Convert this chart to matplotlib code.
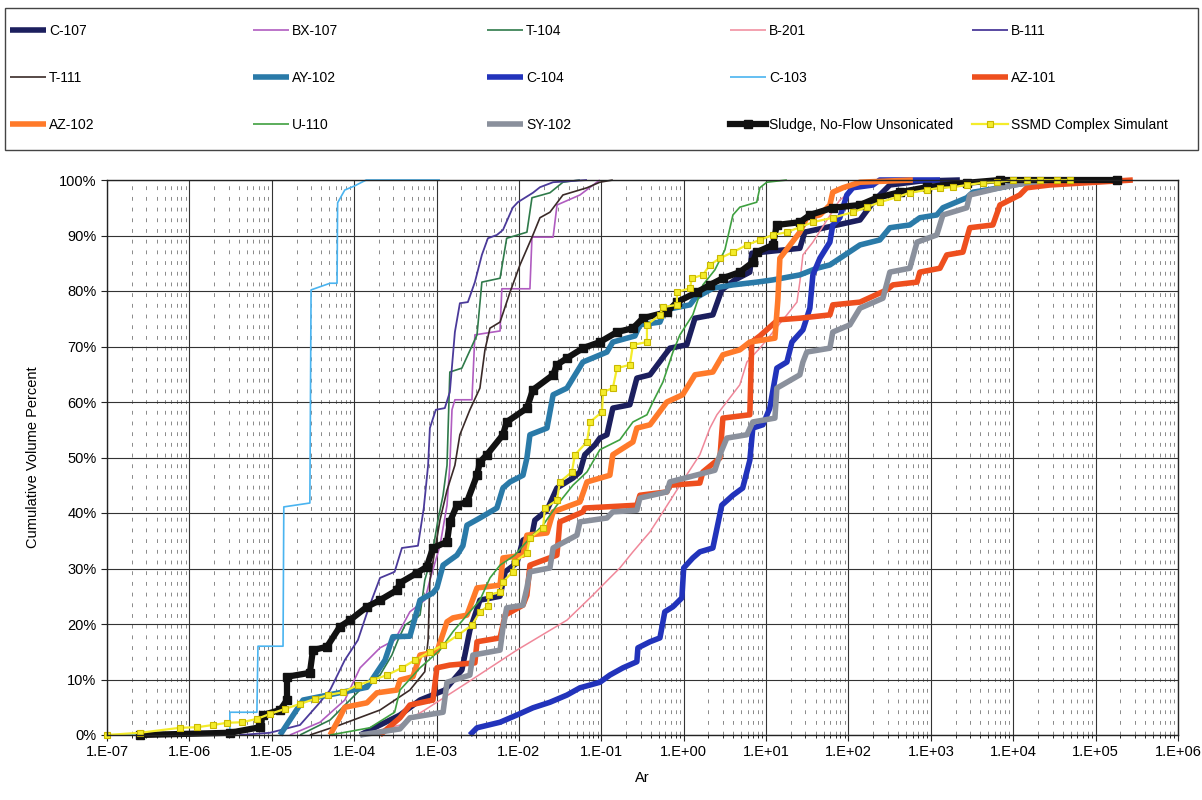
import matplotlib
matplotlib.use("Agg")
import matplotlib.pyplot as plt
import numpy as np
from matplotlib.patches import Rectangle
from matplotlib.ticker import FixedLocator, FuncFormatter, NullFormatter

plt.rcParams['font.family'] = ['Liberation Sans', 'DejaVu Sans']

# Series data (x = Ar, y = cumulative volume %)
c107_x = [1.18e-4, 3.6e-4, 6.3e-4, 1.26e-3, 2.03e-3, 2.54e-3, 3.36e-3, 5.9e-3, 6.8e-3, 9.45e-3,
          1.12e-2, 1.44e-2, 1.56e-2, 2.19e-2, 2.89e-2, 4.52e-2, 5.5e-2, 6.3e-2, 8.4e-2, 9.6e-2,
          0.117, 0.138, 0.222, 0.27, 0.39, 0.68, 1.09, 1.37, 2.26, 2.9, 4.18, 6.35, 6.7,
          25.7, 29.5, 138, 209, 318, 735, 2250]
c107_y = [0, 3.6, 6.3, 8.1, 11.7, 18.9, 24.3, 25.0, 29.4, 31.0,
          35.1, 36.0, 38.7, 40.5, 44.5, 46.3, 47.4, 50.5, 52.3, 53.5,
          54.1, 58.9, 59.5, 64.3, 64.9, 69.7, 70.3, 75.1, 75.7, 80.2, 82.0, 83.4, 86.8,
          87.7, 90.6, 92.8, 96.4, 99.1, 99.8, 100]

bx107_x = [1.66e-5, 3.85e-5, 7.7e-5, 1.18e-4, 2.06e-4, 3.1e-4, 4.75e-4, 7.2e-4, 8.3e-4, 1.1e-3,
           1.34e-3, 1.45e-3, 1.54e-3, 1.67e-3, 2.69e-3, 2.92e-3, 5.9e-3, 6.2e-3, 1.36e-2, 1.44e-2,
           2.6e-2, 2.9e-2, 5.5e-2, 9.6e-2]
bx107_y = [0, 2.3, 6.3, 12.1, 15.7, 17.1, 22.2, 24.3, 27.9, 34.1,
           41.4, 48.6, 58.6, 60.4, 60.4, 72.1, 72.8, 80.4, 80.4, 89.7,
           89.7, 95.5, 97.3, 100]

t104_x = [2.2e-5, 5.1e-5, 8.9e-5, 1.35e-4, 2.06e-4, 2.87e-4, 3.4e-4, 4.15e-4, 6.3e-4, 7.2e-4,
          8.8e-4, 1.04e-3, 1.2e-3, 1.34e-3, 1.45e-3, 2.03e-3, 3.1e-3, 3.55e-3, 5.9e-3, 7.1e-3,
          1.25e-2, 1.44e-2, 2.38e-2, 3.42e-2, 5.5e-2]
t104_y = [0, 2.7, 6.3, 9.0, 10.8, 14.4, 17.1, 19.8, 21.6, 27.9,
          32.4, 38.7, 43.2, 48.6, 65.4, 66.1, 72.1, 81.6, 82.3, 89.5,
          90.6, 96.8, 97.7, 99.6, 100]

b201_x = [1.18e-4, 3.6e-4, 7.2e-4, 2.34e-3, 9.45e-3, 3.83e-2, 7.9e-2, 0.127, 0.168, 0.242,
          0.39, 0.56, 0.90, 1.57, 2.08, 2.53, 4.8, 5.85, 8.4, 17.9, 23.7, 25.7, 28.0, 37.0,
          78.5, 138, 420]
b201_y = [0, 1.8, 4.5, 9.4, 15.3, 20.7, 25.2, 28.3, 30.1, 33.0,
          36.6, 40.2, 45.0, 50.5, 55.3, 57.7, 63.1, 67.2, 69.7, 75.7, 78.0, 81.6, 86.5, 88.8,
          96.4, 99.1, 100]

b111_x = [4.1e-6, 9.5e-6, 2.2e-5, 3.6e-5, 5.1e-5, 7.7e-5, 1.11e-4, 1.47e-4, 2.06e-4, 3.1e-4,
          3.8e-4, 5.95e-4, 7.0e-4, 7.9e-4, 8.3e-4, 9.8e-4, 1.26e-3, 1.45e-3, 1.67e-3, 1.92e-3,
          2.4e-3, 2.92e-3, 3.55e-3, 4.2e-3, 5.4e-3, 6.4e-3, 8.4e-3, 9.7e-3, 1.48e-2, 1.8e-2,
          2.6e-2, 6.7e-2]
b111_y = [0, 0.4, 1.8, 5.4, 8.1, 13.5, 17.1, 22.5, 28.3, 29.4,
          33.7, 34.1, 40.9, 48.6, 55.3, 58.6, 58.9, 61.8, 72.6, 77.8,
          78.0, 81.6, 86.5, 89.5, 90.1, 91.0, 95.0, 96.0, 97.7, 98.7,
          99.6, 100]

t111_x = [2.9e-5, 6.7e-5, 2.06e-4, 4.75e-4, 7.2e-4, 7.9e-4, 8.3e-4, 1.1e-3, 1.34e-3, 1.67e-3,
          1.92e-3, 2.54e-3, 3.36e-3, 3.87e-3, 4.45e-3, 5.9e-3, 7.8e-3, 1.03e-2, 1.48e-2, 1.8e-2,
          2.38e-2, 3.42e-2, 6.7e-2, 9.6e-2, 0.138]
t111_y = [0, 1.8, 4.5, 8.1, 11.4, 17.1, 27.9, 38.7, 44.1, 48.6,
          54.1, 58.6, 62.5, 69.4, 73.3, 74.4, 79.8, 84.7, 90.1, 93.2,
          94.2, 97.3, 98.6, 99.6, 100]

ay102_x = [1.26e-5, 2.4e-5, 1.43e-4, 2.37e-4, 2.95e-4, 4.75e-4, 6.3e-4, 9.05e-4, 1.01e-3, 1.2e-3,
           1.77e-3, 2.09e-3, 2.34e-3, 3.36e-3, 5.4e-3, 6.4e-3, 7.8e-3, 1.12e-2, 1.25e-2, 1.36e-2,
           2.19e-2, 2.6e-2, 3.83e-2, 5.98e-2, 0.117, 0.138, 0.256, 0.294, 0.515, 0.59,
           1.19, 1.37, 2.26, 3.96, 7.7, 12.1, 25.7, 41.4, 59.5, 138, 240, 318, 555, 735,
           1180, 1400, 2730, 3230, 6900, 1.0e4, 1.73e4, 3.02e4]
ay102_y = [0, 6.3, 8.6, 13.5, 17.7, 17.8, 24.3, 25.6, 26.5, 30.6,
           32.4, 34.1, 37.8, 39.1, 40.9, 44.5, 45.6, 46.8, 49.9, 54.1,
           55.3, 61.3, 62.5, 67.2, 69.0, 70.8, 71.9, 73.9, 74.4, 76.6,
           77.5, 78.7, 80.5, 81.1, 81.6, 82.0, 82.9, 84.1, 84.7, 88.3, 89.2, 91.4, 91.9, 93.2,
           93.7, 95.0, 96.8, 97.8, 98.6, 99.1, 99.6, 100]

c104_x = [2.54e-3, 3.1e-3, 5.9e-3, 9.45e-3, 1.48e-2, 2.38e-2, 3.83e-2, 5.5e-2, 9.6e-2, 0.127,
          0.183, 0.27, 0.278, 0.39, 0.515, 0.59, 0.74, 0.95, 1.0, 1.29,
          1.57, 2.26, 2.9, 3.96, 5.2, 6.35, 6.9, 9.15, 11.1, 13.5,
          17.9, 20.6, 28.0, 34.0, 37.0, 45.0, 59.5, 64.5, 78.5, 95.5,
          113, 198, 240, 1290]
c104_y = [0, 1.3, 2.3, 3.6, 4.9, 5.9, 7.2, 8.5, 9.5, 10.8,
          12.1, 13.2, 15.7, 16.8, 17.5, 22.2, 23.1, 24.7, 30.1, 31.9,
          33.0, 33.7, 41.4, 43.2, 44.5, 49.5, 55.3, 55.9, 58.9, 66.1,
          67.2, 70.8, 73.0, 76.9, 82.9, 85.9, 88.8, 91.9, 93.2, 97.3,
          98.6, 99.1, 100, 100]

c103_x = [1.0e-7, 3.1e-6, 3.1e-6, 6.6e-6, 6.8e-6, 1.37e-5, 1.4e-5, 2.9e-5, 3.0e-5, 5.1e-5,
          6.2e-5, 6.3e-5, 7.7e-5, 1.0e-4, 1.4e-4, 1.1e-3]
c103_y = [0, 0, 4.1, 4.1, 16.0, 16.0, 41.1, 41.8, 80.2, 81.4,
          81.4, 95.9, 98.2, 98.9, 100, 100]

az101_x = [2.06e-4, 3.6e-4, 4.75e-4, 9.05e-4, 1.01e-3, 1.45e-3, 2.92e-3, 3.1e-3, 5.9e-3, 6.8e-3,
           1.12e-2, 1.25e-2, 1.36e-2, 2.89e-2, 3.14e-2, 5.98e-2, 6.3e-2, 0.27, 0.294, 0.625,
           0.68, 1.57, 1.71, 2.75, 2.99, 6.35, 6.7, 8.4, 13.9, 25.7,
           59.5, 64.5, 138, 292, 346, 680, 735, 1290, 1560, 2450,
           2970, 5660, 6900, 1.2e4, 1.46e4, 2.78e4, 2.83e5]
az101_y = [0, 3.1, 5.4, 6.3, 12.1, 12.6, 13.0, 16.8, 17.5, 21.6,
           23.4, 25.2, 30.6, 32.4, 38.4, 40.2, 40.9, 41.4, 43.2, 43.8,
           45.0, 45.4, 47.4, 49.9, 57.1, 57.7, 70.8, 71.9, 74.8, 75.1,
           75.7, 77.5, 78.0, 80.2, 81.1, 81.6, 83.4, 84.1, 86.5, 87.0,
           91.4, 91.9, 95.5, 97.3, 98.6, 99.1, 100]

az102_x = [5.1e-5, 6.7e-5, 7.7e-5, 1.43e-4, 1.89e-4, 3.3e-4, 3.6e-4, 5.17e-4, 6.3e-4, 1.01e-3,
           1.34e-3, 1.58e-3, 2.34e-3, 3.1e-3, 5.9e-3, 6.4e-3, 1.12e-2, 1.25e-2, 2.19e-2, 2.6e-2,
           5.5e-2, 6.7e-2, 0.127, 0.138, 0.242, 0.27, 0.39, 0.625, 0.97, 1.37,
           2.26, 2.99, 4.8, 6.35, 12.8, 13.9, 14.7, 25.7, 31.2, 45.0,
           59.5, 64.5, 85.5, 138, 605]
az102_y = [0, 3.2, 5.0, 5.8, 7.6, 8.1, 9.9, 10.5, 14.4, 15.0,
           20.4, 21.1, 21.6, 26.5, 27.0, 31.9, 32.4, 36.0, 36.4, 40.2,
           42.0, 45.6, 46.8, 50.5, 52.8, 55.3, 55.9, 60.0, 61.3, 64.9,
           65.4, 68.5, 69.4, 70.8, 71.5, 78.4, 85.9, 90.6, 93.2, 93.7,
           95.5, 97.8, 98.6, 99.6, 100]

u110_x = [5.1e-5, 1.55e-4, 3.1e-4, 3.6e-4, 6.3e-4, 1.1e-3, 1.58e-3, 2.34e-3, 3.36e-3, 4.45e-3,
          5.9e-3, 8.9e-3, 1.36e-2, 1.96e-2, 2.89e-2, 4.52e-2, 6.7e-2, 9.6e-2, 0.168, 0.242,
          0.358, 0.423, 0.56, 0.74, 0.90, 1.29, 1.71, 2.39, 3.16, 3.96,
          4.8, 7.7, 8.4, 10.2, 17.9]
u110_y = [0, 1.3, 4.1, 8.1, 12.1, 15.3, 18.6, 21.6, 24.3, 28.3,
          30.6, 32.4, 35.5, 37.8, 41.4, 45.0, 47.4, 51.4, 53.2, 56.4,
          57.7, 60.0, 63.6, 69.0, 72.1, 75.7, 81.1, 83.8, 87.4, 93.7,
          95.1, 96.0, 98.6, 99.6, 100]

sy102_x = [1.18e-4, 3.6e-4, 4.75e-4, 1.2e-3, 1.34e-3, 2.54e-3, 2.76e-3, 5.9e-3, 6.4e-3, 7.1e-3,
           1.12e-2, 1.25e-2, 1.36e-2, 2.38e-2, 2.6e-2, 5.06e-2, 5.5e-2, 0.117, 0.138, 0.27,
           0.294, 0.625, 0.68, 2.39, 2.75, 3.34, 5.85, 6.9, 12.8, 13.5,
           25.7, 28.0, 31.2, 59.5, 64.5, 104, 138, 262, 318, 555,
           680, 1180, 1400, 2730, 2970, 6900, 1.46e4, 3.02e4]
sy102_y = [0, 1.1, 3.1, 4.1, 9.5, 10.8, 14.4, 15.3, 19.3, 22.9,
           23.4, 26.5, 29.4, 30.1, 33.7, 36.0, 38.4, 39.1, 40.2, 40.5,
           42.7, 43.8, 45.6, 47.7, 50.5, 53.5, 54.1, 56.4, 57.1, 62.5,
           64.9, 67.2, 69.0, 69.7, 72.6, 73.9, 76.9, 78.7, 83.4, 84.1,
           88.8, 90.1, 93.7, 95.0, 97.3, 98.6, 99.5, 100]

sludge_x = [2.5e-7, 3.1e-6, 7.2e-6, 7.8e-6, 1.26e-5, 1.53e-5, 1.53e-5, 2.9e-5, 3.16e-5, 4.68e-5,
            6.7e-5, 8.9e-5, 1.43e-4, 2.06e-4, 3.3e-4, 3.6e-4, 5.78e-4, 7.6e-4, 9.05e-4, 1.34e-3,
            1.45e-3, 1.77e-3, 2.34e-3, 3.1e-3, 3.36e-3, 4.09e-3, 6.4e-3, 7.1e-3, 1.25e-2, 1.48e-2,
            2.6e-2, 2.89e-2, 3.83e-2, 5.98e-2, 9.6e-2, 0.155, 0.242, 0.32, 0.625, 0.827,
            1.45, 2.08, 2.99, 4.8, 6.9, 7.7, 12.1, 13.5, 25.7, 34.0,
            64.5, 138, 221, 420, 890, 2730, 6900, 1.8e5]
sludge_y = [0, 0.4, 1.4, 3.6, 4.5, 6.3, 10.5, 11.2, 15.3, 15.9,
            19.5, 20.7, 23.1, 24.3, 26.1, 27.4, 29.2, 30.3, 33.7, 34.8,
            38.4, 41.4, 42.0, 46.8, 49.2, 50.5, 54.1, 56.4, 58.9, 62.2,
            64.9, 66.7, 67.9, 69.7, 70.8, 72.6, 73.3, 75.1, 76.2, 78.0,
            79.8, 81.1, 82.3, 83.4, 85.2, 87.0, 88.3, 91.9, 92.4, 93.7,
            95.0, 95.5, 96.8, 97.8, 98.7, 99.5, 100, 100]

ssmd_x = [1.0e-7, 2.5e-7, 7.7e-7, 1.24e-6, 1.93e-6, 2.86e-6, 4.35e-6, 6.6e-6, 9.5e-6, 1.45e-5,
          2.2e-5, 3.34e-5, 4.8e-5, 7.3e-5, 1.11e-4, 1.69e-4, 2.5e-4, 3.8e-4, 5.5e-4, 8.3e-4,
          1.2e-3, 1.82e-3, 2.69e-3, 3.36e-3, 4.2e-3, 4.3e-3, 5.9e-3, 6.4e-3, 8.4e-3, 8.9e-3,
          1.25e-2, 1.36e-2, 1.96e-2, 2.07e-2, 2.89e-2, 3.14e-2, 4.4e-2, 4.78e-2, 6.7e-2, 7.3e-2,
          0.102, 0.105, 0.138, 0.155, 0.222, 0.242, 0.358, 0.358, 0.515, 0.56,
          0.827, 0.827, 1.19, 1.26, 1.71, 2.08, 2.75, 3.96, 5.85, 8.4,
          12.1, 17.9, 25.7, 37.0, 64.5, 113, 167, 240, 387, 555,
          890, 1290, 1850, 2730, 4280, 6300, 1.0e4, 1.46e4, 2.1e4, 3.38e4, 4.86e4]
ssmd_y = [0, 0.4, 1.3, 1.4, 1.8, 2.2, 2.3, 2.9, 3.8, 4.7,
          5.6, 6.5, 7.2, 7.7, 9.0, 9.9, 10.8, 12.1, 13.5, 15.0,
          16.2, 18.0, 19.8, 22.2, 23.2, 25.2, 25.8, 27.6, 29.4, 31.2,
          32.8, 35.5, 37.3, 40.9, 42.3, 45.6, 47.4, 50.5, 52.8, 56.4,
          58.2, 61.8, 62.5, 66.1, 66.7, 70.3, 70.8, 73.9, 75.7, 77.1,
          77.5, 79.8, 80.5, 82.3, 82.9, 84.7, 85.9, 87.0, 88.3, 89.2,
          90.1, 90.6, 91.5, 92.4, 93.2, 94.2, 95.1, 96.0, 96.9, 97.7,
          98.2, 98.6, 98.7, 99.1, 99.5, 99.6, 100, 100, 100, 100, 100]

# name, x, y, colour, linewidth, marker  (plot order = legend order)
series = [
    ("C-107", c107_x, c107_y, "#1c1f5e", 4.0, None),
    ("BX-107", bx107_x, bx107_y, "#b05cc0", 1.2, None),
    ("T-104", t104_x, t104_y, "#2f7a4a", 1.2, None),
    ("B-201", b201_x, b201_y, "#f0889a", 1.1, None),
    ("B-111", b111_x, b111_y, "#4b3a9a", 1.3, None),
    ("T-111", t111_x, t111_y, "#3a2a28", 1.2, None),
    ("AY-102", ay102_x, ay102_y, "#2a7aa8", 4.0, None),
    ("C-104", c104_x, c104_y, "#2233bb", 4.0, None),
    ("C-103", c103_x, c103_y, "#4ab4f0", 1.2, None),
    ("AZ-101", az101_x, az101_y, "#ee4f1e", 4.0, None),
    ("AZ-102", az102_x, az102_y, "#ff7a2a", 4.0, None),
    ("U-110", u110_x, u110_y, "#3fa040", 1.2, None),
    ("SY-102", sy102_x, sy102_y, "#8a909c", 4.0, None),
    ("Sludge, No-Flow Unsonicated", sludge_x, sludge_y, "#111111", 4.5, "s"),
    ("SSMD Complex Simulant", ssmd_x, ssmd_y, "#f4ec2a", 1.6, "s"),
]

fig = plt.figure(figsize=(12.02, 8.0), dpi=100)
ax = fig.add_axes([107 / 1202, 1 - 735 / 800, (1178 - 107) / 1202, (735 - 180) / 800])

handles = {}
for name, xs, ys, col, lw, mk in series:
    if mk is None:
        ln, = ax.plot(xs, ys, color=col, lw=lw, solid_capstyle='butt', clip_on=False)
    elif name.startswith("Sludge"):
        ln, = ax.plot(xs, ys, color=col, lw=lw, marker=mk, ms=5.5, mfc=col, mec=col, clip_on=False)
    else:
        ln, = ax.plot(xs, ys, color=col, lw=lw, marker=mk, ms=5, mfc=col, mec="#c9b800",
                      mew=0.8, clip_on=False)
    handles[name] = ln

ax.set_xscale("log")
ax.set_xlim(1e-7, 1e6)
ax.set_ylim(0, 100)

decades = [10.0 ** k for k in range(-7, 7)]
ax.xaxis.set_major_locator(FixedLocator(decades))
ax.xaxis.set_major_formatter(FuncFormatter(lambda v, p: "1.E%+03d" % int(round(np.log10(v)))))
ax.xaxis.set_minor_locator(matplotlib.ticker.LogLocator(base=10, subs=np.arange(2, 10), numticks=100))
ax.xaxis.set_minor_formatter(NullFormatter())
ax.set_yticks(np.arange(0, 101, 10))
ax.yaxis.set_major_formatter(FuncFormatter(lambda v, p: "%d%%" % v))

ax.grid(True, which="major", axis="both", color="#333333", lw=0.8)
ax.grid(True, which="minor", axis="x", color="#6a6a6a", lw=0.55, linestyle=(0, (5, 9)))
ax.set_axisbelow(True)
for s in ax.spines.values():
    s.set_color("#222222")
    s.set_linewidth(1.0)

ax.tick_params(axis="both", which="major", labelsize=10.5, length=4, color="#222222")
ax.tick_params(axis="x", which="minor", length=2)
ax.set_xlabel("Ar", fontsize=10.5, labelpad=8)
ax.set_ylabel("Cumulative Volume Percent", fontsize=10.5, labelpad=14)

# legend box across the top, five evenly spaced columns
fig.patches.append(Rectangle((5 / 1202, 1 - 150 / 800), 1193 / 1202, 142 / 800,
                             transform=fig.transFigure, fill=False, ec="#444444", lw=1.0))
order = [["C-107", "T-111", "AZ-102"],
         ["BX-107", "AY-102", "U-110"],
         ["T-104", "C-104", "SY-102"],
         ["B-201", "C-103", "Sludge, No-Flow Unsonicated"],
         ["B-111", "AZ-101", "SSMD Complex Simulant"]]
col_x = [10, 253, 487, 730, 972]
for cx, names in zip(col_x, order):
    fig.legend([handles[n] for n in names], names, loc="upper left",
               bbox_to_anchor=(cx / 1202, 1 - 24 / 800), frameon=False, fontsize=10,
               borderpad=0, borderaxespad=0, handlelength=2.6, handletextpad=0.2,
               labelspacing=2.38, numpoints=1)

fig.savefig("out.png", dpi=100, facecolor="white")
